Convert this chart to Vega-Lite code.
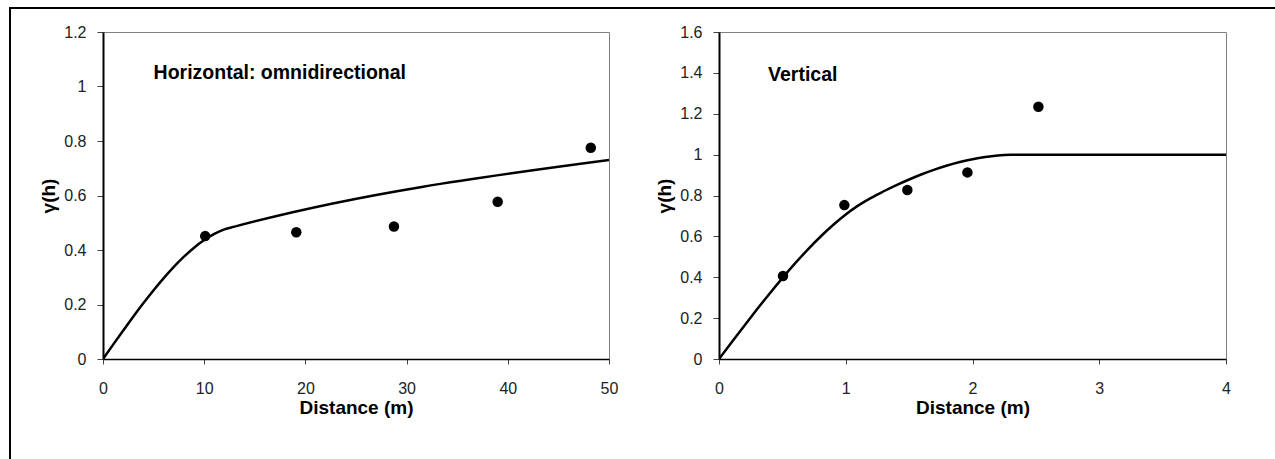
{
  "$schema": "https://vega.github.io/schema/vega-lite/v6.json",
  "background": "white",
  "padding": {"left": 9, "top": 7, "right": 0, "bottom": 0},
  "autosize": {"type": "pad"},
  "config": {
    "font": "Liberation Sans",
    "view": {"stroke": null},
    "axis": {
      "grid": false,
      "labelFont": "Liberation Sans",
      "labelFontSize": 16,
      "labelColor": "#222222",
      "labelFlush": false,
      "labelOverlap": false,
      "labelExpr": "'' + datum.value",
      "tickColor": "#444444",
      "tickWidth": 1,
      "domainColor": "black",
      "titleFont": "Liberation Sans",
      "titleFontSize": 19,
      "titleFontWeight": "bold",
      "titleColor": "black"
    },
    "axisX": {"tickSize": 5, "labelPadding": 16, "domainWidth": 1.5, "titleBaseline": "alphabetic", "titleY": 54},
    "axisY": {"tickSize": 6, "labelPadding": 11, "domainWidth": 2, "titleX": -49, "titleY": 163.5, "titleBaseline": "alphabetic", "titleAlign": "center", "titleAngle": -90}
  },
  "datasets": {
    "horizontalModel": [
      {"distance": 0, "gamma": 0},
      {"distance": 1, "gamma": 0.0527},
      {"distance": 2, "gamma": 0.1048},
      {"distance": 3, "gamma": 0.1558},
      {"distance": 4, "gamma": 0.2052},
      {"distance": 5, "gamma": 0.2524},
      {"distance": 6, "gamma": 0.2969},
      {"distance": 7, "gamma": 0.3381},
      {"distance": 8, "gamma": 0.3754},
      {"distance": 9, "gamma": 0.4084},
      {"distance": 10, "gamma": 0.4365},
      {"distance": 11, "gamma": 0.4591},
      {"distance": 12, "gamma": 0.4757},
      {"distance": 13, "gamma": 0.4858},
      {"distance": 50, "gamma": 0.73}
    ],
    "horizontalObserved": [
      {"distance": 10.1, "gamma": 0.451},
      {"distance": 19.1, "gamma": 0.465},
      {"distance": 28.75, "gamma": 0.486},
      {"distance": 39.0, "gamma": 0.577},
      {"distance": 48.2, "gamma": 0.775}
    ],
    "verticalModel": [
      {"distance": 0, "gamma": 0},
      {"distance": 0.1, "gamma": 0.0819},
      {"distance": 0.2, "gamma": 0.1631},
      {"distance": 0.3, "gamma": 0.243},
      {"distance": 0.4, "gamma": 0.3208},
      {"distance": 0.5, "gamma": 0.3959},
      {"distance": 0.6, "gamma": 0.4676},
      {"distance": 0.7, "gamma": 0.5352},
      {"distance": 0.8, "gamma": 0.5981},
      {"distance": 0.9, "gamma": 0.6556},
      {"distance": 1.0, "gamma": 0.707},
      {"distance": 1.1, "gamma": 0.7515},
      {"distance": 1.2, "gamma": 0.7887},
      {"distance": 1.3, "gamma": 0.8208},
      {"distance": 1.4, "gamma": 0.8509},
      {"distance": 1.5, "gamma": 0.8784},
      {"distance": 1.6, "gamma": 0.904},
      {"distance": 1.7, "gamma": 0.9268},
      {"distance": 1.8, "gamma": 0.9467},
      {"distance": 1.9, "gamma": 0.9638},
      {"distance": 2.0, "gamma": 0.9778},
      {"distance": 2.1, "gamma": 0.9885},
      {"distance": 2.2, "gamma": 0.9958},
      {"distance": 2.3, "gamma": 0.9995},
      {"distance": 2.35, "gamma": 1.0},
      {"distance": 4.0, "gamma": 1.0}
    ],
    "verticalObserved": [
      {"distance": 0.505, "gamma": 0.406},
      {"distance": 0.989, "gamma": 0.753},
      {"distance": 1.486, "gamma": 0.827},
      {"distance": 1.96, "gamma": 0.913},
      {"distance": 2.52, "gamma": 1.234}
    ]
  },
  "bounds": "flush",
  "spacing": 0,
  "hconcat": [
    {
      "width": 0.01,
      "height": 451,
      "view": {"stroke": "black", "strokeWidth": 2},
      "data": {"values": []},
      "mark": {"type": "point"},
      "encoding": {}
    },
    {
      "bounds": "flush",
      "spacing": 23,
      "vconcat": [
        {
          "width": 1265,
          "height": 0.01,
          "view": {"stroke": "black", "strokeWidth": 2},
          "data": {"values": []},
          "mark": {"type": "point"},
          "encoding": {}
        },
        {
          "bounds": "flush",
          "spacing": 91,
          "hconcat": [
            {
              "width": 0.01,
              "height": 0.01,
              "data": {"values": []},
              "mark": {"type": "point"},
              "encoding": {}
            },
            {
              "bounds": "flush",
              "spacing": 110,
              "hconcat": [
                {
                  "width": 506,
                  "height": 327,
                  "view": {"stroke": "#808080", "strokeWidth": 1},
                  "layer": [
                    {
                      "data": {"name": "horizontalModel"},
                      "mark": {"type": "line", "color": "black", "strokeWidth": 2.5, "interpolate": "monotone", "clip": true},
                      "encoding": {
                        "x": {"field": "distance", "type": "quantitative", "scale": {"domain": [0, 50], "nice": false},
                              "axis": {"title": "Distance (m)", "values": [0, 10, 20, 30, 40, 50]}},
                        "y": {"field": "gamma", "type": "quantitative", "scale": {"domain": [0, 1.2], "nice": false},
                              "axis": {"title": "γ(h)", "values": [0, 0.2, 0.4, 0.6, 0.8, 1, 1.2]}}
                      }
                    },
                    {
                      "data": {"name": "horizontalObserved"},
                      "mark": {"type": "circle", "size": 110, "color": "black", "opacity": 1},
                      "encoding": {
                        "x": {"field": "distance", "type": "quantitative"},
                        "y": {"field": "gamma", "type": "quantitative"}
                      }
                    },
                    {
                      "data": {"values": [{}]},
                      "mark": {"type": "text", "align": "left", "baseline": "alphabetic", "fontSize": 19.5, "fontWeight": "bold", "color": "black"},
                      "encoding": {
                        "x": {"datum": 5.0, "type": "quantitative"},
                        "y": {"datum": 1.026, "type": "quantitative"},
                        "text": {"value": "Horizontal: omnidirectional"}
                      }
                    }
                  ]
                },
                {
                  "width": 507,
                  "height": 327,
                  "view": {"stroke": "#808080", "strokeWidth": 1},
                  "layer": [
                    {
                      "data": {"name": "verticalModel"},
                      "mark": {"type": "line", "color": "black", "strokeWidth": 2.5, "interpolate": "monotone", "clip": true},
                      "encoding": {
                        "x": {"field": "distance", "type": "quantitative", "scale": {"domain": [0, 4], "nice": false},
                              "axis": {"title": "Distance (m)", "values": [0, 1, 2, 3, 4]}},
                        "y": {"field": "gamma", "type": "quantitative", "scale": {"domain": [0, 1.6], "nice": false},
                              "axis": {"title": "γ(h)", "values": [0, 0.2, 0.4, 0.6, 0.8, 1, 1.2, 1.4, 1.6]}}
                      }
                    },
                    {
                      "data": {"name": "verticalObserved"},
                      "mark": {"type": "circle", "size": 110, "color": "black", "opacity": 1},
                      "encoding": {
                        "x": {"field": "distance", "type": "quantitative"},
                        "y": {"field": "gamma", "type": "quantitative"}
                      }
                    },
                    {
                      "data": {"values": [{}]},
                      "mark": {"type": "text", "align": "left", "baseline": "alphabetic", "fontSize": 19.5, "fontWeight": "bold", "color": "black"},
                      "encoding": {
                        "x": {"datum": 0.387, "type": "quantitative"},
                        "y": {"datum": 1.36, "type": "quantitative"},
                        "text": {"value": "Vertical"}
                      }
                    }
                  ]
                }
              ]
            }
          ]
        }
      ]
    }
  ]
}
